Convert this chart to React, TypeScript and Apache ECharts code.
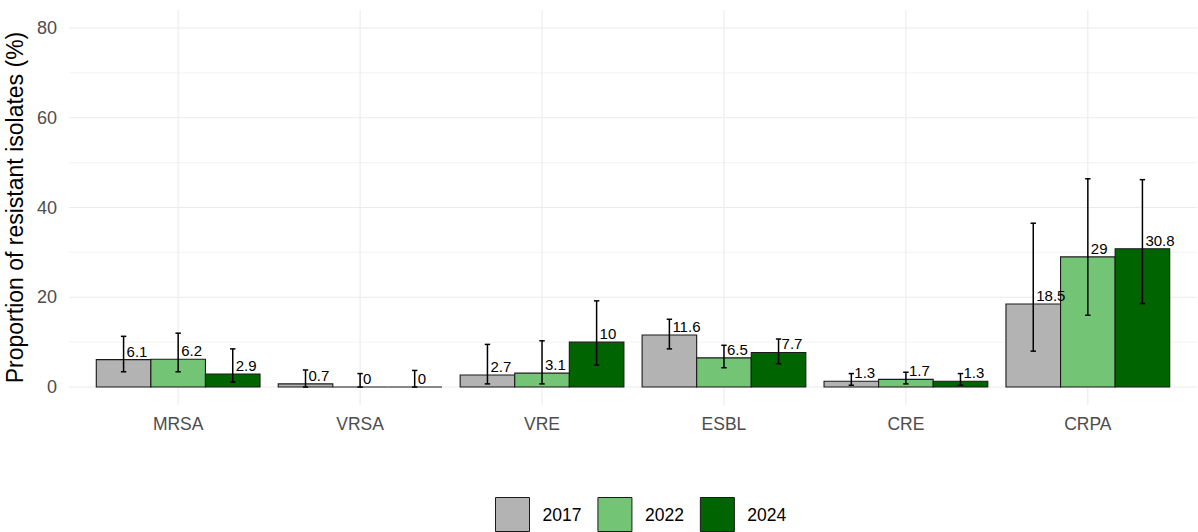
import React, { useEffect, useRef } from "react";
import * as echarts from "echarts";

const categories = ["MRSA", "VRSA", "VRE", "ESBL", "CRE", "CRPA"];
const years = ["2017", "2022", "2024"];
const values2017 = [6.1, 0.7, 2.7, 11.6, 1.3, 18.5];
const values2022 = [6.2, 0, 3.1, 6.5, 1.7, 29];
const values2024 = [2.9, 0, 10, 7.7, 1.3, 30.8];
const lower2017 = [3.4, 0, 0.7, 8.5, 0.4, 8.0];
const upper2017 = [11.3, 3.8, 9.5, 15.1, 3.0, 36.5];
const lower2022 = [3.4, 0, 0.7, 4.3, 0.7, 16.0];
const upper2022 = [12.0, 3.0, 10.3, 9.3, 3.3, 46.4];
const lower2024 = [1.1, 0, 4.9, 5.2, 0.4, 18.6];
const upper2024 = [8.5, 3.7, 19.2, 10.7, 3.0, 46.2];
const majorTicks = [0, 20, 40, 60, 80];
const minorTicks = [10, 30, 50, 70];

const yearColors = ["#b3b3b3", "#74c476", "#006400"];
const FONT = "Liberation Sans, Arial, sans-serif";

export default function App() {
  const ref = useRef<HTMLDivElement>(null);
  useEffect(() => {
    if (!ref.current) return;
    const chart = echarts.init(ref.current, null, { renderer: "svg" });
    const allValues = [values2017, values2022, values2024];
    const allLower = [lower2017, lower2022, lower2024];
    const allUpper = [upper2017, upper2022, upper2024];
    const barW = 0.3;

    const barSeries: any[] = years.map((y, k) => ({
      type: "custom",
      name: y,
      z: 2,
      itemStyle: { color: yearColors[k] },
      encode: { x: 0, y: 1 },
      data: categories.map((c, i) => [i + 1, allValues[k][i]]),
      renderItem: (params: any, api: any) => {
        const xc = api.value(0) + (k - 1) * barW;
        const v = api.value(1);
        const tl = api.coord([xc - barW / 2, v]);
        const br = api.coord([xc + barW / 2, 0]);
        return {
          type: "rect",
          shape: { x: tl[0], y: tl[1], width: br[0] - tl[0], height: br[1] - tl[1] },
          style: { fill: yearColors[k], stroke: "#1a1a1a", lineWidth: 1.1 },
        };
      },
    }));

    const overlaySeries: any[] = years.map((y, k) => ({
      type: "custom",
      name: y + "-err",
      z: 3,
      encode: { x: 0, y: [1, 2, 3] },
      data: categories.map((c, i) => [i + 1, allValues[k][i], allLower[k][i], allUpper[k][i]]),
      renderItem: (params: any, api: any) => {
        const xc = api.value(0) + (k - 1) * barW;
        const v = api.value(1);
        const lo = api.coord([xc, api.value(2)]);
        const hi = api.coord([xc, api.value(3)]);
        const top = api.coord([xc, v]);
        const cap = 2.7;
        const ls = { stroke: "#000", lineWidth: 1.5 };
        return {
          type: "group",
          children: [
            { type: "line", shape: { x1: lo[0], y1: lo[1], x2: hi[0], y2: hi[1] }, style: ls },
            { type: "line", shape: { x1: lo[0] - cap, y1: lo[1], x2: lo[0] + cap, y2: lo[1] }, style: ls },
            { type: "line", shape: { x1: hi[0] - cap, y1: hi[1], x2: hi[0] + cap, y2: hi[1] }, style: ls },
            {
              type: "text",
              x: top[0] + 3,
              y: top[1] - 1,
              style: {
                text: String(v),
                fill: "#000",
                fontSize: 15,
                fontFamily: FONT,
                align: "left",
                verticalAlign: "bottom",
              },
            },
          ],
        };
      },
    }));

    const gridSeries: any[] = [
      {
        type: "custom",
        name: "hgrid",
        z: 0,
        silent: true,
        encode: { x: 0, y: 1 },
        data: majorTicks.map((t) => [1, t, 1]).concat(minorTicks.map((t) => [1, t, 0])),
        renderItem: (params: any, api: any) => {
          const a = api.coord([0.4, api.value(1)]);
          const b = api.coord([6.6, api.value(1)]);
          return {
            type: "line",
            shape: { x1: a[0], y1: a[1], x2: b[0], y2: b[1] },
            style: { stroke: "#ebebeb", lineWidth: api.value(2) ? 1.1 : 0.6 },
          };
        },
      },
      {
        type: "custom",
        name: "vgrid",
        z: 0,
        silent: true,
        encode: { x: 0, y: 1 },
        data: categories.map((c, i) => [i + 1, 0]),
        renderItem: (params: any, api: any) => {
          const a = api.coord([api.value(0), -4]);
          const b = api.coord([api.value(0), 84]);
          return {
            type: "line",
            shape: { x1: a[0], y1: a[1], x2: b[0], y2: b[1] },
            style: { stroke: "#ebebeb", lineWidth: 1.1 },
          };
        },
      },
    ];

    chart.setOption({
      animation: false,
      grid: { left: 69, right: 1, top: 10, bottom: 127, containLabel: false, outerBoundsMode: "none" },
      xAxis: {
        type: "value",
        min: 0.4,
        max: 6.6,
        axisLine: { show: false },
        axisTick: { show: false },
        splitLine: { show: false },
        axisLabel: {
          customValues: [1, 2, 3, 4, 5, 6],
          formatter: (v: number) => categories[Math.round(v) - 1] ?? "",
          color: "#4d4d4d",
          fontSize: 17.5,
          fontFamily: FONT,
          margin: 10,
        },
      },
      yAxis: {
        type: "value",
        min: -4,
        max: 84,
        name: "Proportion of resistant isolates (%)",
        nameLocation: "middle",
        nameGap: 34,
        nameTextStyle: { color: "#000", fontSize: 23, fontFamily: FONT },
        axisLine: { show: false },
        axisTick: { show: false },
        splitLine: { show: false },
        axisLabel: {
          customValues: majorTicks,
          color: "#4d4d4d",
          fontSize: 18,
          fontFamily: FONT,
          margin: 12,
        },
      },
      legend: {
        left: 495,
        top: 497,
        padding: 0,
        orient: "horizontal",
        itemWidth: 34,
        itemHeight: 34,
        itemGap: 16,
        selectedMode: false,
        textStyle: { color: "#000", fontSize: 17.5, fontFamily: FONT, padding: [0, 0, 0, 8] },
        data: years.map((y, k) => ({
          name: y,
          icon: "rect",
          itemStyle: { color: yearColors[k], borderColor: "#1a1a1a", borderWidth: 1 },
        })),
      },
      series: [...gridSeries, ...barSeries, ...overlaySeries],
    });
    return () => chart.dispose();
  }, []);
  return (
    <div
      ref={ref}
      style={{ position: "fixed", left: 0, top: 0, width: 1198, height: 532, background: "#fff" }}
    />
  );
}
